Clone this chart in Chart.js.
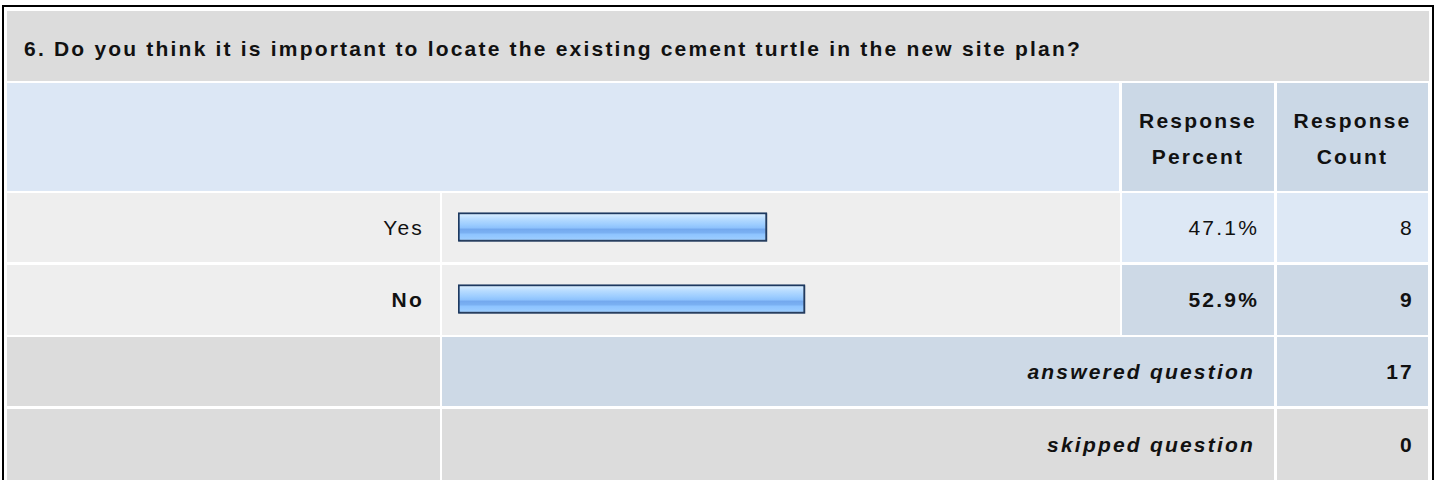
<!DOCTYPE html>
<html>
<head>
<meta charset="utf-8">
<script src="https://cdn.jsdelivr.net/npm/chart.js@4.4.1/dist/chart.umd.min.js"></script>
<style>
  html, body { margin: 0; padding: 0; background: #ffffff; width: 1438px; height: 480px; overflow: hidden; }
  body { position: relative; font-family: "Liberation Sans", Arial, sans-serif; color: #000; }
  .frame { position: absolute; left: 2px; top: 5px; width: 1428px; height: 480px; border-left: 2px solid #000; border-right: 2px solid #000; border-top: 2px solid #000; }
  .cell { position: absolute; box-sizing: border-box; display: flex; align-items: center; font-size: 21px; letter-spacing: 2.2px; color: #111; }
  .r { justify-content: flex-end; }
  .c { justify-content: center; text-align: center; }
  .b { font-weight: bold; }
  .i { font-style: italic; }
  #chartBox { position: absolute; left: 442px; top: 190px; width: 678px; height: 146px; }
</style>
</head>
<body>
<div class="frame"></div>
<div id="cells"></div>
<div id="chartBox"><canvas id="chart"></canvas></div>
<script>
// ---- data ----
const questionTitle = "6. Do you think it is important to locate the existing cement turtle in the new site plan?";
const headerLabels = ["Response\nPercent", "Response\nCount"];
const categories = ["Yes", "No"];
const percents = [47.1, 52.9];
const counts = [8, 9];
const summaryLabels = ["answered question", "skipped question"];
const summaryValues = [17, 0];

// ---- layout of table cells ----
const X = { l0: 7, l1: 440, b0: 442, b1: 1120, p0: 1122, p1: 1274, c0: 1277, c1: 1429 };
const rowsY = [[11, 81], [83, 191], [193, 262], [265, 335], [337, 406], [409, 480]];
const holder = document.getElementById('cells');
function cell(x0, x1, y0, y1, bg, text, cls, pad) {
  const d = document.createElement('div');
  d.className = 'cell ' + (cls || '');
  d.style.left = x0 + 'px'; d.style.top = y0 + 'px';
  d.style.width = (x1 - x0) + 'px'; d.style.height = (y1 - y0) + 'px';
  d.style.background = bg;
  if (pad) d.style.padding = pad;
  if (text !== undefined && text !== null) {
    if (text.indexOf('\n') >= 0) {
      d.style.whiteSpace = 'pre-line';
      d.style.lineHeight = '36px';
      d.style.paddingTop = '3px';
    }
    d.textContent = text;
  }
  holder.appendChild(d);
  return d;
}
// title
cell(X.l0, X.c1, rowsY[0][0], rowsY[0][1], '#dcdcdc', questionTitle, 'b', '5px 0 0 17px');
// header
cell(X.l0, X.b1 - 1, rowsY[1][0], rowsY[1][1], '#dce7f5');
cell(X.p0, X.p1, rowsY[1][0], rowsY[1][1], '#cbd8e6', headerLabels[0], 'b c');
cell(X.c0, X.c1 - 1, rowsY[1][0], rowsY[1][1], '#cbd8e6', headerLabels[1], 'b c');
// answer rows
const maxIdx = percents.indexOf(Math.max(...percents));
categories.forEach((cat, i) => {
  const [y0, y1] = rowsY[2 + i];
  const bold = i === maxIdx ? ' b' : '';
  const bg = i === maxIdx ? '#cdd9e6' : '#dde8f5';
  cell(X.l0, X.l1, y0, y1, '#eeeeee', cat, 'r' + bold, '0 16px 0 0');
  cell(X.b0, X.b1, y0, y1, '#eeeeee');
  cell(X.p0, X.p1, y0, y1, bg, percents[i].toFixed(1) + '%', 'r' + bold, '0 15px 0 0');
  cell(X.c0, X.c1 - 1, y0, y1, bg, String(counts[i]), 'r' + bold, '0 14px 0 0');
});
// summary rows
summaryLabels.forEach((lab, i) => {
  const [y0, y1] = rowsY[4 + i];
  const bg = i === 0 ? '#cdd9e6' : '#dcdcdc';
  cell(X.l0, X.l1, y0, y1, '#dcdcdc');
  cell(X.b0, X.p1, y0, y1, bg, lab, 'r b i', '0 19px 0 0');
  cell(X.c0, X.c1 - 1, y0, y1, bg, String(summaryValues[i]), 'r b', '0 14px 0 0');
});

// ---- bar chart ----
const barShadow = {
  id: 'barShadow',
  beforeDatasetsDraw(chart) {
    const ctx = chart.ctx;
    ctx.save();
    ctx.shadowColor = 'rgba(60,70,90,0.45)';
    ctx.shadowOffsetX = 1;
    ctx.shadowOffsetY = 1;
    ctx.shadowBlur = 0;
  },
  afterDatasetsDraw(chart) { chart.ctx.restore(); }
};
const BAR_T = 29;
new Chart(document.getElementById('chart'), {
  type: 'bar',
  data: {
    labels: categories,
    datasets: [{
      data: percents,
      barThickness: BAR_T,
      borderWidth: 2,
      borderColor: '#1d3960',
      borderSkipped: false,
      backgroundColor(ctx) {
        const chart = ctx.chart;
        const ys = chart.scales && chart.scales.y;
        if (ctx.type !== 'data' || !ys) return '#99ccff';
        const yc = ys.getPixelForValue(ctx.dataIndex);
        if (!isFinite(yc)) return '#99ccff';
        const g = chart.ctx.createLinearGradient(0, yc - BAR_T / 2 + 2, 0, yc + BAR_T / 2 - 2);
        g.addColorStop(0, '#d4ebff');
        g.addColorStop(0.18, '#b6dbff');
        g.addColorStop(0.4, '#9dcdff');
        g.addColorStop(0.52, '#8fc3fd');
        g.addColorStop(0.6, '#74a9ee');
        g.addColorStop(0.72, '#7ab0f2');
        g.addColorStop(0.8, '#8ec4ff');
        g.addColorStop(1, '#9ccdff');
        return g;
      }
    }]
  },
  options: {
    indexAxis: 'y',
    responsive: true,
    maintainAspectRatio: false,
    animation: false,
    devicePixelRatio: 1,
    layout: { padding: { left: 16, right: 6, top: 1, bottom: 1 } },
    scales: {
      x: { display: false, min: 0, max: 100 },
      y: { display: false, offset: true }
    },
    plugins: { legend: { display: false }, tooltip: { enabled: false } }
  },
  plugins: [barShadow]
});
</script>
</body>
</html>
